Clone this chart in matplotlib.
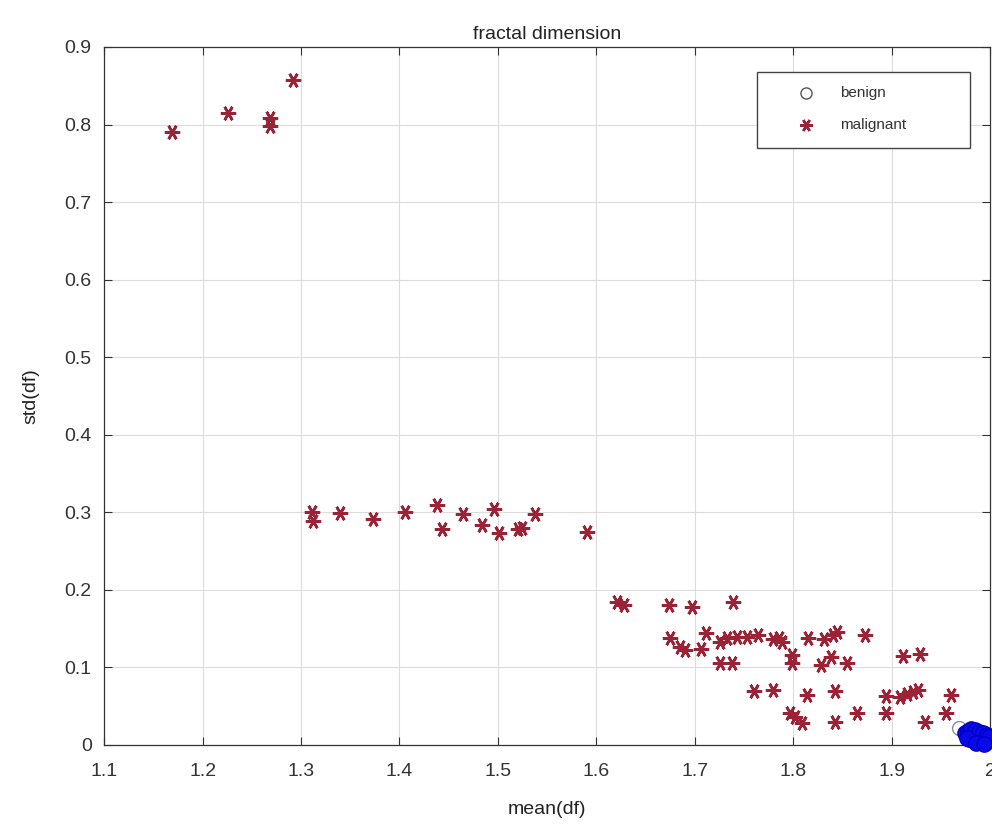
import matplotlib
matplotlib.use("Agg")
import matplotlib.pyplot as plt
from matplotlib.patches import Rectangle

plt.rcParams['font.family'] = ['Liberation Sans', 'DejaVu Sans']

# malignant samples: mean and std of the fractal dimension
mal_mean = [1.169, 1.226, 1.268, 1.268, 1.292,
            1.311, 1.312, 1.340, 1.373, 1.406, 1.438, 1.443, 1.465, 1.484,
            1.496, 1.501, 1.520, 1.525, 1.538, 1.591,
            1.621, 1.628, 1.674, 1.697, 1.739,
            1.675, 1.685, 1.690, 1.706, 1.711, 1.726, 1.733, 1.743, 1.753,
            1.764, 1.726, 1.738, 1.780, 1.786, 1.789, 1.799, 1.799, 1.815,
            1.831, 1.840, 1.845, 1.838, 1.828, 1.855, 1.873,
            1.760, 1.780, 1.814, 1.843, 1.797, 1.802, 1.809, 1.843, 1.865,
            1.894, 1.894, 1.912, 1.929, 1.909, 1.916, 1.922, 1.927, 1.934,
            1.955, 1.960]
mal_std = [0.790, 0.815, 0.808, 0.798, 0.857,
           0.300, 0.289, 0.299, 0.291, 0.300, 0.309, 0.279, 0.298, 0.284,
           0.304, 0.273, 0.278, 0.280, 0.298, 0.274,
           0.184, 0.180, 0.181, 0.178, 0.184,
           0.138, 0.126, 0.122, 0.124, 0.144, 0.133, 0.138, 0.139, 0.139,
           0.142, 0.106, 0.106, 0.136, 0.138, 0.133, 0.116, 0.106, 0.138,
           0.137, 0.142, 0.145, 0.113, 0.103, 0.105, 0.142,
           0.069, 0.071, 0.064, 0.069, 0.041, 0.036, 0.028, 0.030, 0.041,
           0.041, 0.063, 0.114, 0.117, 0.062, 0.066, 0.068, 0.071, 0.030,
           0.041, 0.064]

# benign samples, packed near mean = 2
ben_mean = [1.975, 1.978, 1.980, 1.982, 1.984, 1.986, 1.988, 1.990,
            1.992, 1.994, 1.996, 1.979, 1.983, 1.987, 1.991, 1.995, 1.998,
            1.981, 1.985, 1.989, 1.993, 1.997, 1.999, 1.977, 1.986, 1.994]
ben_std = [0.015, 0.018, 0.012, 0.016, 0.010, 0.014, 0.008, 0.012,
           0.009, 0.011, 0.007, 0.008, 0.006, 0.004, 0.005, 0.003, 0.006,
           0.020, 0.019, 0.017, 0.015, 0.013, 0.010, 0.009, 0.002, 0.001]
# one benign sample drawn apart from the cluster
ben_out_mean = [1.968]
ben_out_std = [0.022]

x_ticks = [1.1, 1.2, 1.3, 1.4, 1.5, 1.6, 1.7, 1.8, 1.9, 2.0]
x_labels = ['1.1', '1.2', '1.3', '1.4', '1.5', '1.6', '1.7', '1.8', '1.9', '2']
y_ticks = [0, 0.1, 0.2, 0.3, 0.4, 0.5, 0.6, 0.7, 0.8, 0.9]
y_labels = ['0', '0.1', '0.2', '0.3', '0.4', '0.5', '0.6', '0.7', '0.8', '0.9']

MAL_COLOR = '#9b2335'
BEN_COLOR = '#0a0ae8'
ASTERISK = (6, 2, 90)

fig = plt.figure(figsize=(9.92, 8.24), dpi=100)
ax = fig.add_axes([0.105, 0.096, 0.893, 0.847])

ax.plot(ben_out_mean, ben_out_std, linestyle='none', marker='o',
        markersize=10, markerfacecolor='none', markeredgecolor='#8a8aa0',
        markeredgewidth=1.0, clip_on=False, zorder=4)
ax.plot(ben_mean, ben_std, linestyle='none', marker='o', markersize=11,
        markerfacecolor=BEN_COLOR, markeredgecolor='#0000c8',
        clip_on=False, zorder=5)
ax.plot(mal_mean, mal_std, linestyle='none', marker=ASTERISK, markersize=11,
        color=MAL_COLOR, markeredgewidth=1.9, zorder=3)

# legend box
ax.add_patch(Rectangle((0.737, 0.855), 0.240, 0.109, transform=ax.transAxes,
                       facecolor='white', edgecolor='#444444', linewidth=1.0,
                       zorder=6))
ax.plot([0.792], [0.934], transform=ax.transAxes, linestyle='none',
        marker='o', markersize=8, markerfacecolor='none',
        markeredgecolor='#555555', markeredgewidth=1.0, zorder=7)
ax.plot([0.792], [0.888], transform=ax.transAxes, linestyle='none',
        marker=ASTERISK, markersize=9, color=MAL_COLOR,
        markeredgewidth=1.8, zorder=7)
ax.text(0.831, 0.934, 'benign', transform=ax.transAxes, fontsize=11,
        va='center', ha='left', color='#333333', zorder=7)
ax.text(0.831, 0.888, 'malignant', transform=ax.transAxes, fontsize=11,
        va='center', ha='left', color='#333333', zorder=7)

ax.set_xlim(1.1, 2.0)
ax.set_ylim(0, 0.9)
ax.set_xticks(x_ticks)
ax.set_xticklabels(x_labels)
ax.set_yticks(y_ticks)
ax.set_yticklabels(y_labels)
ax.tick_params(direction='in', length=6, width=0.8, colors='#333333',
               labelsize=14, top=True, right=True)
ax.tick_params(axis='x', pad=13)
ax.tick_params(axis='y', pad=9)
ax.grid(True, color='#dcdcdc', linewidth=0.8)
ax.set_axisbelow(True)
for s in ax.spines.values():
    s.set_color('#333333')
    s.set_linewidth(0.9)

ax.set_title('fractal dimension', fontsize=14, color='#222222', pad=6)
ax.set_xlabel('mean(df)', fontsize=14, color='#222222', labelpad=15)
ax.set_ylabel('std(df)', fontsize=14, color='#222222', labelpad=18)

fig.savefig('out.png', dpi=100)
